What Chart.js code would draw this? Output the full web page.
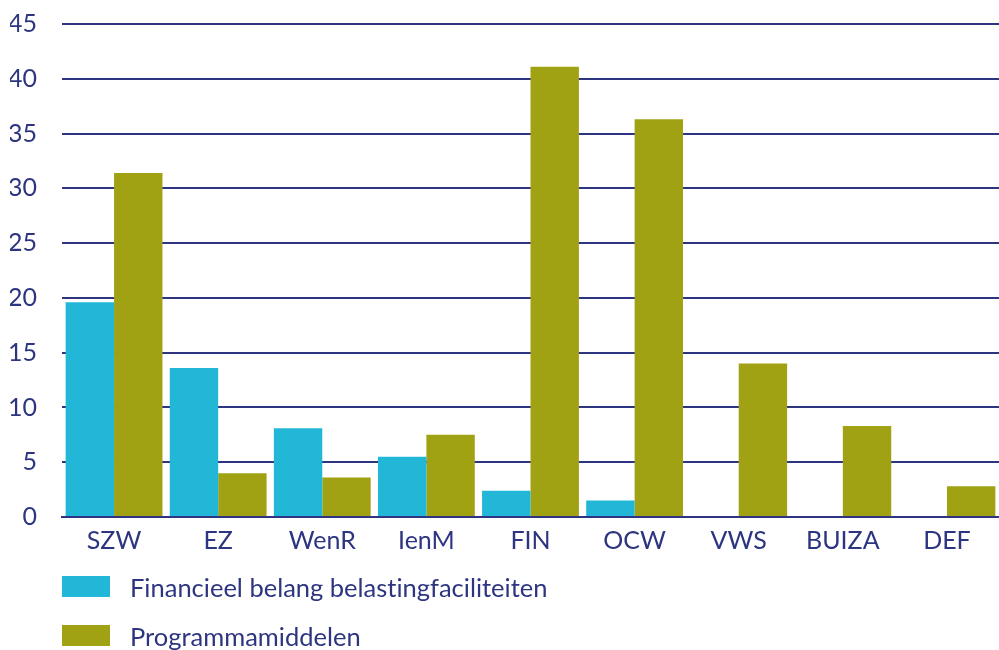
<!DOCTYPE html>
<html>
<head>
<meta charset="utf-8">
<script src="https://cdn.jsdelivr.net/npm/chart.js@4"></script>
<style>
  html, body { margin: 0; padding: 0; background: #fff; }
  #wrap { position: relative; width: 999px; height: 650px; }
  #legend { position: absolute; left: 62px; top: 562px; font-family: Lato, "Open Sans", sans-serif; font-size: 25.5px; color: #2d3580; font-variant-ligatures: none; }
  .item { display: flex; align-items: center; height: 49px; }
  .box { width: 48px; height: 21px; margin-right: 20px; }
</style>
</head>
<body>
<div id="wrap">
  <canvas id="chart" width="999" height="650"></canvas>
  <div id="legend"></div>
</div>
<script>
// --- DATA ---
const categories = ['SZW', 'EZ', 'WenR', 'IenM', 'FIN', 'OCW', 'VWS', 'BUIZA', 'DEF'];
const financieelBelang = [19.6, 13.6, 8.1, 5.5, 2.4, 1.5, 0, 0, 0];
const programmamiddelen = [31.4, 4.0, 3.6, 7.5, 41.1, 36.3, 14.0, 8.3, 2.8];
const seriesNames = ['Financieel belang belastingfaciliteiten', 'Programmamiddelen'];

const navy = '#2d3580';
const cyan = '#22b6d7';
const olive = '#a1a213';
const fontFamily = 'Lato, "Open Sans", sans-serif';

const ctx = document.getElementById('chart').getContext('2d');

const chart = new Chart(ctx, {
    type: 'bar',
    data: {
        labels: categories,
        datasets: [
            { label: seriesNames[0], data: financieelBelang, backgroundColor: cyan },
            { label: seriesNames[1], data: programmamiddelen, backgroundColor: olive }
        ]
    },
    options: {
        responsive: false,
        animation: false,
        layout: { padding: { top: 0, right: 0, bottom: 93, left: 10 } },
        datasets: {
            bar: { categoryPercentage: 0.93, barPercentage: 1 }
        },
        scales: {
            x: {
                grid: { display: false },
                border: { color: navy, width: 2 },
                ticks: {
                    color: navy,
                    font: { family: fontFamily, size: 25 },
                    padding: 1
                }
            },
            y: {
                min: 0,
                max: 45,
                afterFit: (scale) => {
                    scale.width = 52;       // fixed label column
                    scale.paddingTop = 24;  // tick padding would otherwise push the top down
                    scale.paddingBottom = 0;
                },
                ticks: {
                    stepSize: 5,
                    color: navy,
                    font: { family: fontFamily, size: 25 },
                    padding: 25
                },
                grid: { color: navy, lineWidth: 2, drawTicks: false },
                border: { display: false }
            }
        },
        plugins: {
            legend: { display: false },
            tooltip: { enabled: false }
        }
    }
});

// HTML legend, stacked vertically like the original
const legendEl = document.getElementById('legend');
chart.data.datasets.forEach(ds => {
    const item = document.createElement('div');
    item.className = 'item';
    item.innerHTML = `<span class="box" style="background:${ds.backgroundColor}"></span><span>${ds.label}</span>`;
    legendEl.appendChild(item);
});
</script>
</body>
</html>
